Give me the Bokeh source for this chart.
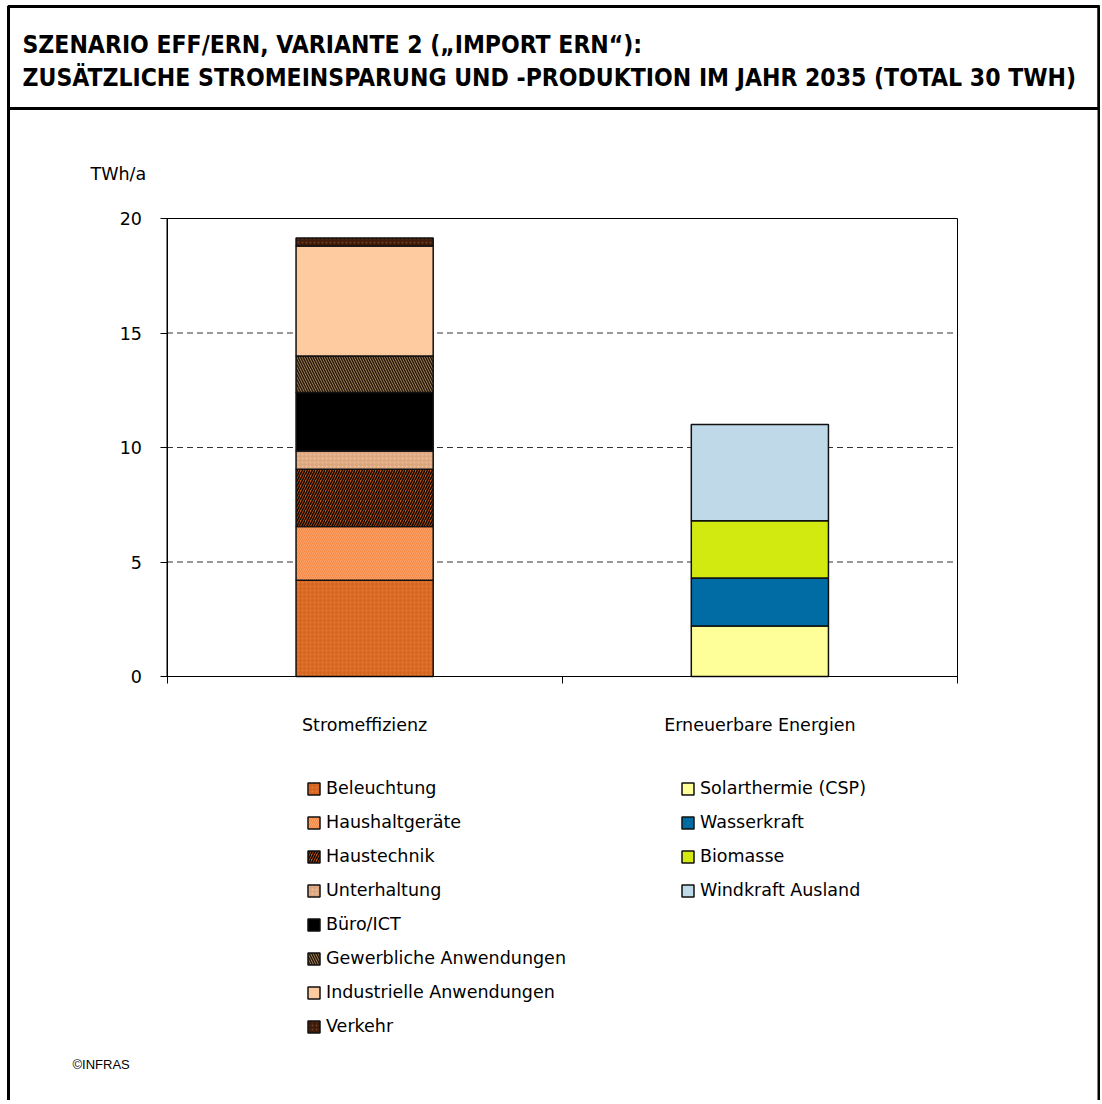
from bokeh.plotting import figure
from bokeh.models import (ColumnDataSource, Range1d, FixedTicker, Label, Legend,
                          LegendItem, BoxAnnotation, LinearAxis)
from bokeh.embed import file_html
from bokeh.resources import INLINE

# ---------------- data ----------------
categories = ["Stromeffizienz", "Erneuerbare Energien"]
eff_series = ["Beleuchtung", "Haushaltgeräte", "Haustechnik", "Unterhaltung", "Büro/ICT",
              "Gewerbliche Anwendungen", "Industrielle Anwendungen", "Verkehr"]
eff_values = [4.2, 2.35, 2.5, 0.8, 2.55, 1.6, 4.8, 0.35]
ern_series = ["Solarthermie (CSP)", "Wasserkraft", "Biomasse", "Windkraft Ausland"]
ern_values = [2.2, 2.1, 2.5, 4.2]
y_ticks = [0, 5, 10, 15, 20]
title_lines = ["SZENARIO EFF/ERN, VARIANTE 2 („IMPORT ERN“):",
               "ZUSÄTZLICHE STROMEINSPARUNG UND -PRODUKTION IM JAHR 2035 (TOTAL 30 TWH)"]
y_unit = "TWh/a"
credit = "©INFRAS"

# ---------------- styles ----------------
eff_fill = ["#D8661F", "#F7853F", "#C8581A", "#DCA77E", "#000000", "#B8956F", "#FDCB9F", "#3E1B0B"]
eff_hatch = ["dot", "left_diagonal_line", "right_diagonal_line", "dot", " ",
             "left_diagonal_line", " ", "dot"]
eff_hatch_color = ["#E47E40", "#FBA56E", "#140800", "#EBC29F", "#000000", "#2A1A0A", "#FDCB9F", "#6E3E1E"]
eff_hatch_scale = [4, 4, 5, 4, 4, 5, 4, 4]
eff_hatch_weight = [1.0, 1.0, 1.6, 1.0, 1.0, 1.6, 1.0, 1.0]
ern_fill = ["#FFFF99", "#006CA3", "#D3EA10", "#BFD9E8"]

W, H = 1100, 1100
# pixel positions of the plot area (canvas px)
PX0, PX1 = 166.5, 957.0     # x = 0 .. n_categories
PY0, PY1 = 676.0, 218.0     # y = 0 .. 20
xmax = len(categories)
ymax = y_ticks[-1]
kx = (PX1 - PX0) / xmax
ky = (PY0 - PY1) / ymax

p = figure(width=W, height=H,
           x_range=Range1d(-PX0 / kx, xmax + (W - PX1) / kx),
           y_range=Range1d(-(H - PY0) / ky, ymax + PY1 / ky),
           output_backend="svg", toolbar_location=None,
           x_axis_location=None, y_axis_location=None, min_border=0)
p.background_fill_color = "white"
p.border_fill_color = "white"
p.outline_line_color = None
p.xgrid.visible = False
p.ygrid.visible = False

def sx(cx):
    return cx

def sy(cy):
    return H - cy

# gridlines and plot-area frame
p.segment(x0=0, x1=xmax, y0=y_ticks[1:-1], y1=y_ticks[1:-1],
          line_color="#333333", line_dash="6 4", line_width=1)
p.quad(left=0, right=xmax, bottom=0, top=ymax, fill_alpha=0,
       line_color="black", line_width=1)

bar_w = 0.347
src_eff = ColumnDataSource(dict(x=[0.5], **{n: [v] for n, v in zip(eff_series, eff_values)}))
src_ern = ColumnDataSource(dict(x=[1.5], **{n: [v] for n, v in zip(ern_series, ern_values)}))

r_eff = p.vbar_stack(eff_series, x="x", width=bar_w, source=src_eff,
                     fill_color=eff_fill, line_color="#111111", line_width=1.5,
                     hatch_pattern=eff_hatch, hatch_color=eff_hatch_color,
                     hatch_scale=eff_hatch_scale, hatch_weight=eff_hatch_weight)
r_ern = p.vbar_stack(ern_series, x="x", width=bar_w, source=src_ern,
                     fill_color=ern_fill, line_color="#111111", line_width=1.5)

# axes
font = "DejaVu Sans"
fsize = "17.5px"
yax = LinearAxis(fixed_location=0, bounds=(0, ymax))
yax.ticker = FixedTicker(ticks=y_ticks, minor_ticks=[])
yax.major_tick_out = 7
yax.major_tick_in = 0
yax.minor_tick_out = 0
yax.minor_tick_in = 0
yax.major_tick_line_color = "black"
yax.axis_line_color = "black"
yax.major_label_text_font = font
yax.major_label_text_font_size = fsize
yax.major_label_text_color = "black"
yax.major_label_standoff = 18
p.add_layout(yax, "left")

xax = LinearAxis(fixed_location=0, bounds=(0, xmax))
xax.ticker = FixedTicker(ticks=[i + 0.5 for i in range(len(categories))],
                         minor_ticks=list(range(len(categories) + 1)))
xax.major_label_overrides = {i + 0.5: c for i, c in enumerate(categories)}
xax.major_tick_line_color = None
xax.major_tick_out = 0
xax.major_tick_in = 0
xax.minor_tick_out = 7
xax.minor_tick_in = 0
xax.minor_tick_line_color = "black"
xax.axis_line_color = "black"
xax.major_label_text_font = font
xax.major_label_text_font_size = fsize
xax.major_label_text_color = "black"
xax.major_label_standoff = 31
p.add_layout(xax, "below")

# legends
def make_legend(names, rends, x_canvas, top_canvas):
    n = len(names)
    item_h, spacing = 20, 14
    height = n * item_h + (n - 1) * spacing
    leg = Legend(items=[LegendItem(label=nm, renderers=[r]) for nm, r in zip(names, rends)],
                 location=(sx(x_canvas), sy(top_canvas + height)),
                 glyph_width=15, glyph_height=15, label_height=15, label_standoff=5,
                 spacing=spacing, padding=0, margin=0,
                 label_text_font=font, label_text_font_size=fsize,
                 label_text_color="black",
                 background_fill_alpha=0, border_line_alpha=0)
    p.add_layout(leg, "center")

make_legend(eff_series, r_eff, 306, 778)
make_legend(ern_series, r_ern, 680, 778)

# texts
p.add_layout(Label(x=sx(90), y=sy(173), x_units="screen", y_units="screen", text=y_unit,
                   text_font=font, text_font_size=fsize, text_baseline="middle",
                   text_color="black"))
for t, cy in zip(title_lines, [44, 77]):
    p.add_layout(Label(x=sx(22), y=sy(cy), x_units="screen", y_units="screen", text=t,
                       text_font="DejaVu Sans Condensed", text_font_style="bold",
                       text_font_size="24.5px", text_baseline="middle", text_color="black"))
p.add_layout(Label(x=sx(72), y=sy(1064), x_units="screen", y_units="screen", text=credit,
                   text_font="Liberation Sans", text_font_size="13px", text_baseline="middle",
                   text_color="black"))

# borders
def box(l, t, r, b, lw):
    p.add_layout(BoxAnnotation(left=sx(l), right=sx(r), top=sy(t), bottom=sy(b),
                               left_units="screen", right_units="screen",
                               top_units="screen", bottom_units="screen",
                               fill_alpha=0, line_color="black", line_alpha=1.0,
                               line_width=lw, level="overlay"))

box(8, 6, 1098.5, H + 20, 3)
box(8, 6, 1098.5, 108, 3)

open("out.html", "w").write(file_html(p, INLINE))
